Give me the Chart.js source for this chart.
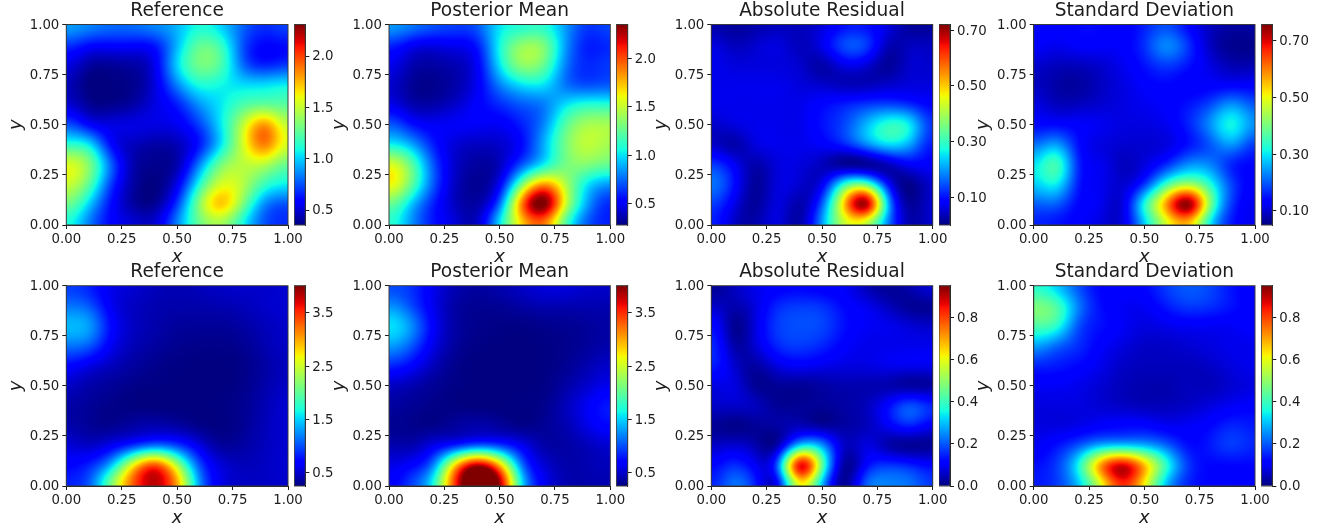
<!DOCTYPE html>
<html>
<head>
<meta charset="utf-8">
<script src="https://cdn.jsdelivr.net/npm/chart.js@4"></script>
<style>
html,body{margin:0;padding:0;background:#fff;}
#stage{position:relative;width:1331px;height:531px;overflow:hidden;background:#fff;}
canvas{position:absolute;}
</style>
</head>
<body>
<div id="stage"></div>
<script>
const gridX = [0,0.1,0.2,0.3,0.4,0.5,0.6,0.7,0.8,0.9,1];
const gridY = [1,0.9,0.8,0.7,0.6,0.5,0.4,0.3,0.2,0.1,0];
const axisTicks = [0,0.25,0.5,0.75,1];
const titles = ["Reference","Posterior Mean","Absolute Residual","Standard Deviation"];

const refA = [
[.90,.85,.80,.80,.85,.95,1.10,1.00,.78,.68,.72],
[.70,.62,.60,.60,.65,.95,1.25,1.15,.75,.60,.62],
[.52,.42,.40,.42,.55,1.00,1.30,1.20,.80,.66,.70],
[.45,.36,.36,.38,.52,.85,1.10,1.08,1.02,1.02,1.05],
[.50,.40,.38,.42,.52,.65,.88,1.05,1.22,1.28,1.25],
[.75,.60,.52,.52,.52,.55,.72,1.05,1.50,1.80,1.50],
[1.15,1.05,.62,.46,.42,.45,.64,1.05,1.55,1.85,1.55],
[1.55,1.35,.80,.44,.38,.44,.85,1.32,1.48,1.45,1.28],
[1.50,1.25,.72,.42,.36,.55,1.12,1.55,1.45,1.15,1.05],
[1.28,1.00,.62,.42,.40,.72,1.35,1.70,1.30,.85,.75],
[1.10,.85,.60,.50,.50,.85,1.28,1.42,1.08,.75,.68]];
const meanA = [
[.85,.78,.70,.66,.72,1.00,1.10,1.10,.85,.65,.68],
[.62,.52,.48,.50,.60,1.05,1.35,1.30,.85,.60,.62],
[.48,.38,.35,.38,.52,1.00,1.35,1.25,.80,.62,.65],
[.42,.33,.31,.36,.50,.80,1.00,1.00,.78,.70,.72],
[.48,.38,.36,.42,.52,.62,.72,.80,1.00,1.10,1.10],
[.72,.58,.50,.50,.50,.50,.60,.82,1.22,1.42,1.42],
[1.05,.90,.60,.44,.40,.42,.55,.90,1.30,1.48,1.42],
[1.55,1.25,.72,.42,.34,.40,.72,1.05,1.30,1.32,1.25],
[1.60,1.25,.72,.40,.32,.52,1.32,1.85,1.45,1.00,.85],
[1.25,.95,.60,.40,.36,.78,1.88,2.35,1.50,.85,.62],
[1.10,.85,.58,.44,.42,1.00,1.70,1.90,1.20,.72,.60]];
const resA = [
[.03,.02,.03,.04,.04,.06,.10,.10,.06,.02,.02],
[.06,.04,.05,.06,.04,.07,.14,.13,.04,.04,.04],
[.07,.06,.06,.06,.05,.03,.07,.06,.02,.05,.05],
[.07,.07,.07,.07,.06,.05,.04,.04,.05,.06,.06],
[.07,.07,.07,.07,.07,.09,.11,.13,.14,.12,.09],
[.05,.06,.07,.07,.07,.10,.14,.22,.29,.25,.13],
[.05,.03,.06,.07,.07,.08,.11,.18,.24,.20,.11],
[.13,.08,.03,.06,.06,.04,.02,.02,.04,.08,.08],
[.17,.10,.02,.06,.05,.08,.30,.35,.10,.01,.05],
[.13,.07,.02,.06,.03,.16,.50,.68,.22,.02,.05],
[.11,.05,.03,.06,.03,.20,.42,.42,.18,.03,.05]];
const stdA = [
[.14,.13,.14,.14,.13,.16,.19,.14,.09,.07,.07],
[.13,.12,.13,.13,.13,.17,.23,.17,.09,.06,.06],
[.10,.09,.09,.10,.12,.15,.18,.15,.11,.08,.08],
[.09,.075,.07,.09,.11,.13,.14,.13,.13,.13,.13],
[.11,.09,.09,.10,.11,.12,.13,.15,.19,.24,.20],
[.14,.14,.13,.12,.11,.11,.12,.16,.24,.31,.24],
[.22,.25,.15,.11,.10,.10,.11,.15,.20,.24,.18],
[.30,.35,.17,.12,.09,.11,.17,.24,.23,.16,.14],
[.28,.30,.16,.12,.10,.18,.36,.45,.33,.18,.13],
[.20,.20,.14,.12,.11,.32,.58,.74,.40,.17,.12],
[.16,.15,.13,.11,.11,.28,.48,.55,.30,.15,.12]];
const refB = [
[.95,.85,.62,.52,.45,.42,.45,.48,.50,.50,.52],
[1.15,1.05,.65,.48,.42,.40,.40,.42,.45,.50,.52],
[1.40,1.30,.75,.48,.40,.35,.34,.34,.38,.45,.50],
[1.15,1.05,.65,.44,.36,.31,.29,.29,.32,.42,.48],
[.72,.60,.46,.36,.30,.27,.26,.26,.29,.38,.46],
[.48,.40,.34,.29,.27,.26,.26,.26,.30,.40,.48],
[.38,.34,.29,.27,.26,.26,.26,.27,.32,.43,.52],
[.40,.34,.32,.38,.42,.38,.30,.27,.33,.45,.52],
[.55,.50,.65,.95,1.20,1.00,.60,.36,.38,.46,.52],
[.72,.85,1.45,2.70,3.40,2.40,1.05,.55,.45,.48,.52],
[.85,1.05,2.10,3.30,3.80,3.00,1.30,.60,.48,.48,.50]];
const meanB = [
[1.00,.90,.62,.42,.36,.40,.48,.55,.55,.50,.50],
[1.25,1.00,.62,.38,.32,.33,.38,.42,.42,.42,.42],
[1.55,1.25,.68,.38,.30,.28,.28,.30,.32,.35,.38],
[1.30,1.05,.60,.35,.28,.26,.26,.27,.30,.35,.40],
[.85,.70,.45,.30,.26,.26,.26,.27,.32,.42,.50],
[.48,.42,.33,.28,.26,.26,.26,.28,.38,.52,.62],
[.36,.33,.29,.27,.26,.26,.27,.30,.45,.65,.80],
[.32,.30,.30,.36,.40,.36,.30,.33,.42,.60,.72],
[.42,.42,.62,.90,1.15,1.00,.65,.40,.38,.45,.52],
[.60,.72,1.25,2.90,3.90,3.00,1.20,.55,.40,.42,.45],
[.70,.95,1.70,3.50,4.60,3.90,1.60,.65,.42,.40,.42]];
const resB = [
[.02,.05,.09,.11,.12,.11,.10,.05,.02,.04,.07],
[.06,.04,.08,.15,.17,.16,.12,.09,.05,.02,.02],
[.12,.02,.08,.17,.19,.18,.13,.10,.09,.07,.06],
[.15,.04,.07,.15,.17,.15,.11,.09,.09,.09,.09],
[.14,.07,.03,.08,.10,.09,.08,.08,.09,.09,.09],
[.08,.08,.02,.02,.02,.03,.04,.04,.04,.03,.03],
[.06,.06,.05,.02,.02,.02,.03,.05,.12,.19,.15],
[.02,.01,.02,.03,.05,.03,.03,.05,.10,.14,.10],
[.06,.07,.04,.05,.33,.27,.06,.08,.04,.02,.02],
[.12,.16,.10,.22,.85,.45,.03,.12,.17,.15,.12],
[.15,.22,.14,.12,.60,.30,.02,.20,.24,.22,.17]];
const stdB = [
[.38,.32,.20,.12,.11,.12,.17,.20,.18,.13,.11],
[.47,.42,.24,.13,.10,.10,.14,.17,.16,.13,.11],
[.42,.38,.20,.13,.10,.08,.09,.10,.10,.10,.11],
[.27,.22,.16,.11,.08,.06,.06,.07,.08,.09,.09],
[.15,.14,.12,.09,.06,.05,.05,.05,.06,.08,.09],
[.10,.10,.09,.07,.05,.04,.04,.05,.05,.07,.08],
[.08,.08,.08,.07,.06,.05,.05,.06,.08,.10,.11],
[.08,.08,.09,.11,.12,.12,.10,.10,.12,.15,.14],
[.10,.13,.20,.30,.33,.30,.22,.13,.14,.17,.15],
[.13,.17,.35,.70,.88,.68,.38,.17,.12,.12,.12],
[.14,.17,.30,.58,.82,.62,.30,.15,.12,.12,.11]];

const colorLimits = [[.354,2.307],[.283,2.35],[.002,.72],[.05,.758],[.256,4.01],[.256,4.01],[0,.95],[0,.95]];
const barTicks = [
[.5,1,1.5,2],[.5,1,1.5,2],[.1,.3,.5,.7],[.1,.3,.5,.7],
[.5,1.5,2.5,3.5],[.5,1.5,2.5,3.5],[0,.2,.4,.6,.8],[0,.2,.4,.6,.8]];
const barDecimals = [1,1,2,2,1,1,1,1];
const fields = [refA,meanA,resA,stdA,refB,meanB,resB,stdB];

const plotLeft  = [66.3,389,711.3,1033.7];
const plotRight = [288,610.3,932.7,1255];
const barLeft   = [294.3,616.3,939,1261.3];
const barRight  = [305.3,627.7,950,1272.3];
const rowTop    = [24.5,285.7];
const rowBottom = [225,486];

const FONT = '"DejaVu Sans"';
const INK = '#1c1c1c';
const TICK_SIZE = 13.3;

function seg(pts,t){
  for(let i=1;i<pts.length;i++){
    if(t<=pts[i][0]){
      const a=pts[i-1],b=pts[i];
      return a[1]+(b[1]-a[1])*(t-a[0])/(b[0]-a[0]);
    }
  }
  return pts[pts.length-1][1];
}
const JR=[[0,0],[.35,0],[.66,1],[.89,1],[1,.5]];
const JG=[[0,0],[.125,0],[.375,1],[.64,1],[.91,0],[1,0]];
const JB=[[0,.5],[.11,1],[.34,1],[.65,0],[1,0]];
function jet(t){
  t=Math.max(0,Math.min(1,t));
  return [seg(JR,t)*255,seg(JG,t)*255,seg(JB,t)*255];
}
// Prefilter for a cubic spline that passes through the given nodes (mirror ends).
function splineLine(v){
  const n=v.length,a=new Array(n).fill(4/6),b=new Array(n).fill(1/6),c=new Array(n).fill(1/6);
  c[0]=2/6;b[n-1]=2/6;
  const cp=new Array(n),dp=new Array(n);
  cp[0]=c[0]/a[0];dp[0]=v[0]/a[0];
  for(let i=1;i<n;i++){
    const m=a[i]-b[i]*cp[i-1];
    cp[i]=c[i]/m;dp[i]=(v[i]-b[i]*dp[i-1])/m;
  }
  const x=new Array(n);x[n-1]=dp[n-1];
  for(let i=n-2;i>=0;i--)x[i]=dp[i]-cp[i]*x[i+1];
  return x;
}
function weights(t){
  const s=1-t;
  return [s*s*s/6,(4-6*t*t+3*t*t*t)/6,(1+3*t+3*t*t-3*t*t*t)/6,t*t*t/6];
}

const heatPlugin = {
  id:'heat',
  beforeDatasetsDraw(chart){
    const {ctx,chartArea:a,scales:{x,y}}=chart;
    const pts=chart.data.datasets[0].data;
    const lim=chart.options.plugins.heat;
    const n=gridX.length,m=gridY.length;
    let co=[];
    for(let r=0;r<m;r++){const row=[];for(let c=0;c<n;c++)row.push(pts[r*n+c].v);co.push(splineLine(row));}
    for(let c=0;c<n;c++){
      const f=splineLine(co.map(row=>row[c]));
      for(let r=0;r<m;r++)co[r][c]=f[r];
    }
    const mir=(i,k)=>{if(i<0)i=-i;if(i>k-1)i=2*(k-1)-i;return i;};
    const W=Math.ceil(a.right-a.left),H=Math.ceil(a.bottom-a.top);
    const off=document.createElement('canvas');off.width=W;off.height=H;
    const oc=off.getContext('2d');const img=oc.createImageData(W,H);
    for(let j=0;j<H;j++){
      const vy=y.getValueForPixel(a.top+(j+.5)*(a.bottom-a.top)/H);
      const fr=(1-vy)*(m-1);const r0=Math.floor(fr);const wr=weights(fr-r0);
      for(let i=0;i<W;i++){
        const vx=x.getValueForPixel(a.left+(i+.5)*(a.right-a.left)/W);
        const fc=vx*(n-1);const c0=Math.floor(fc);const wc=weights(fc-c0);
        let v=0;
        for(let p=0;p<4;p++){
          const rr=co[mir(r0+p-1,m)];
          for(let q=0;q<4;q++)v+=wr[p]*wc[q]*rr[mir(c0+q-1,n)];
        }
        const rgb=jet((v-lim.min)/(lim.max-lim.min));
        const q=(j*W+i)*4;
        img.data[q]=rgb[0];img.data[q+1]=rgb[1];img.data[q+2]=rgb[2];img.data[q+3]=255;
      }
    }
    oc.putImageData(img,0,0);
    ctx.save();
    ctx.imageSmoothingEnabled=true;
    ctx.drawImage(off,a.left,a.top,a.right-a.left,a.bottom-a.top);
    ctx.restore();
  }
};
const framePlugin = {
  id:'frame',
  afterDraw(chart){
    const {ctx,chartArea:a}=chart;
    ctx.save();ctx.strokeStyle='#3a3a3a';ctx.lineWidth=1;
    ctx.strokeRect(a.left,a.top,a.right-a.left,a.bottom-a.top);
    ctx.restore();
  }
};

function addCanvas(l,t,w,h){
  const c=document.createElement('canvas');
  c.width=w;c.height=h;
  c.style.left=l+'px';c.style.top=t+'px';c.style.width=w+'px';c.style.height=h+'px';
  document.getElementById('stage').appendChild(c);
  return c;
}
const tickFont={family:FONT,size:TICK_SIZE};
const axisGrid={drawOnChartArea:false,drawTicks:true,tickLength:4,color:INK,tickWidth:1};

function heatChart(idx){
  const col=idx%4,row=idx<4?0:1;
  const top=rowTop[row],bottom=rowBottom[row];
  const canvasTop=row===0?0:261;
  const canvasLeft=Math.floor(plotLeft[col])-60;
  const yWidth=plotLeft[col]-canvasLeft;
  const canvasW=Math.ceil(plotRight[col])-canvasLeft+20;
  const canvasH=Math.round(bottom-canvasTop)+45;
  const titleH=top-canvasTop;
  const pts=[];
  gridY.forEach((gy,r)=>gridX.forEach((gx,c)=>pts.push({x:gx,y:gy,v:fields[idx][r][c]})));
  const lim=colorLimits[idx];
  new Chart(addCanvas(canvasLeft,canvasTop,canvasW,canvasH),{
    type:'scatter',
    data:{datasets:[{label:titles[col],data:pts,pointRadius:0,pointHoverRadius:0,showLine:false}]},
    plugins:[heatPlugin,framePlugin],
    options:{
      responsive:false,animation:false,devicePixelRatio:1,
      layout:{padding:{left:0,top:0,bottom:0,right:canvasW-(plotRight[col]-canvasLeft)}},
      plugins:{
        legend:{display:false},tooltip:{enabled:false},
        heat:{min:lim[0],max:lim[1]},
        title:{display:true,text:titles[col],fullSize:false,color:INK,
          font:{family:FONT,size:18.6,weight:'normal',lineHeight:1},
          padding:{top:2,bottom:titleH-20.6}}
      },
      scales:{
        x:{type:'linear',min:0,max:1,
          afterBuildTicks(s){s.ticks=axisTicks.map(v=>({value:v}));},
          afterFit(s){s.height=45;},
          grid:axisGrid,border:{color:INK},
          ticks:{font:tickFont,color:INK,padding:3,maxRotation:0,autoSkip:false,callback:v=>v.toFixed(2)},
          title:{display:true,text:'x',color:INK,font:{family:FONT,size:18,style:'italic',weight:'normal'},padding:{top:0,bottom:2}}},
        y:{type:'linear',min:0,max:1,
          afterBuildTicks(s){s.ticks=axisTicks.map(v=>({value:v}));},
          afterFit(s){s.width=yWidth;},
          grid:axisGrid,border:{color:INK},
          ticks:{font:tickFont,color:INK,padding:3,autoSkip:false,labelOffset:1,callback:v=>v.toFixed(2)},
          title:{display:true,text:'y',color:INK,font:{family:FONT,size:18,style:'italic',weight:'normal'},padding:{top:0,bottom:0}}}
      }
    }
  });
}

function barChart(idx){
  const col=idx%4,row=idx<4?0:1;
  const top=rowTop[row],bottom=rowBottom[row];
  const canvasTop=row===0?0:261;
  const canvasLeft=Math.floor(barLeft[col]);
  const canvasH=Math.round(bottom-canvasTop)+45;
  const lim=colorLimits[idx];
  const tks=barTicks[idx],dec=barDecimals[idx];
  const canvasW=60;
  new Chart(addCanvas(canvasLeft,canvasTop,canvasW,canvasH),{
    type:'bar',
    data:{labels:['colorbar'],datasets:[{
      data:[[lim[0],lim[1]]],
      barPercentage:1,categoryPercentage:1,borderWidth:0,borderSkipped:false,
      backgroundColor(c){
        const ch=c.chart;
        if(!ch.chartArea||!ch.scales.y)return '#00f';
        const s=ch.scales.y;
        const g=ch.ctx.createLinearGradient(0,s.getPixelForValue(lim[0]),0,s.getPixelForValue(lim[1]));
        for(let i=0;i<=64;i++){const q=jet(i/64);g.addColorStop(i/64,`rgb(${q[0]},${q[1]},${q[2]})`);}
        return g;
      }
    }]},
    plugins:[framePlugin],
    options:{
      responsive:false,animation:false,devicePixelRatio:1,
      layout:{padding:{left:barLeft[col]-canvasLeft,top:top-canvasTop,bottom:canvasH-(bottom-canvasTop),right:0}},
      plugins:{legend:{display:false},tooltip:{enabled:false}},
      scales:{
        x:{display:false},
        y:{type:'linear',position:'right',min:lim[0],max:lim[1],
          afterBuildTicks(s){s.ticks=tks.map(v=>({value:v}));},
          afterFit(s){s.width=canvasW-(barRight[col]-canvasLeft);},
          grid:axisGrid,border:{color:INK},
          ticks:{font:tickFont,color:INK,padding:3,autoSkip:false,labelOffset:1,callback:v=>v.toFixed(dec)}}
      }
    }
  });
}
for(let i=0;i<8;i++){heatChart(i);barChart(i);}
</script>
</body>
</html>
